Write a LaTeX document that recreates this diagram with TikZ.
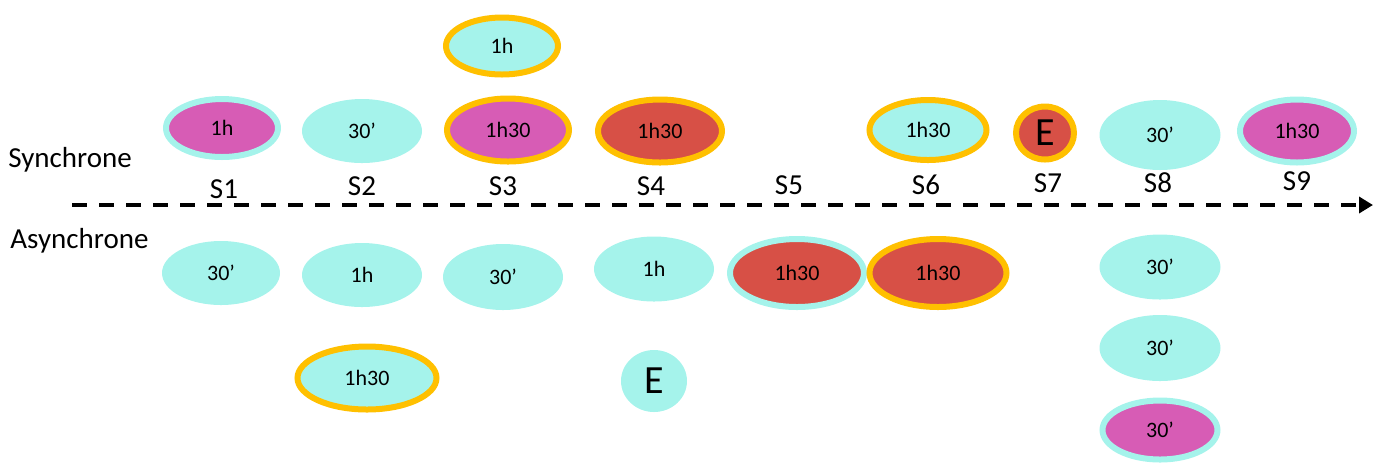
\documentclass[tikz,border=0pt]{standalone}
\usepackage{fontspec}
\setmainfont{Carlito}
\usepackage{tikz}
\usetikzlibrary{arrows.meta, shapes.geometric}
\definecolor{cTurq}{RGB}{165,243,235}
\definecolor{cPink}{RGB}{215,92,181}
\definecolor{cRed}{RGB}{215,80,70}
\definecolor{cGold}{RGB}{255,192,0}
\tikzstyle{sSlot} = [ellipse, inner sep=0pt, line width=3pt, font=\fontsize{11}{13}\selectfont]
\tikzstyle{sTurq} = [sSlot, fill=cTurq]
\tikzstyle{sTurqGold} = [sSlot, fill=cTurq, draw=cGold]
\tikzstyle{sPinkTurq} = [sSlot, fill=cPink, draw=cTurq]
\tikzstyle{sPinkGold} = [sSlot, fill=cPink, draw=cGold]
\tikzstyle{sRedGold} = [sSlot, fill=cRed, draw=cGold]
\tikzstyle{sRedTurq} = [sSlot, fill=cRed, draw=cTurq]
\tikzstyle{sExam} = [font=\fontsize{20}{24}\selectfont]
\tikzstyle{sLabel} = [inner sep=0pt, font=\fontsize{14.5}{17}\selectfont]
\tikzstyle{sAxis} = [line width=2pt, dash pattern=on 7.5pt off 6pt, -{Triangle[length=7pt,width=8pt]}]

\begin{document}
\begin{tikzpicture}[x=0.5pt, y=-0.5pt]
    \useasboundingbox (0,0) rectangle (1373,463);

    % synchrone
    \node (syn1) [sPinkTurq, minimum width=56pt, minimum height=29pt] at (222,128) {1h};
    \node (syn2) [sTurq, minimum width=60pt, minimum height=32pt] at (362,131) {30’};
    \node (syn3a) [sTurqGold, minimum width=56pt, minimum height=28.5pt] at (502,46) {1h};
    \node (syn3b) [sPinkGold, minimum width=61pt, minimum height=31.5pt] at (508,130) {1h30};
    \node (syn4) [sRedGold, minimum width=62pt, minimum height=31.5pt] at (660,131) {1h30};
    \node (syn6) [sTurqGold, minimum width=58.5pt, minimum height=30pt] at (928,130) {1h30};
    \node (syn7) [sRedGold, sExam, minimum width=29pt, minimum height=26.5pt] at (1045,133) {E};
    \node (syn8) [sTurq, minimum width=60.5pt, minimum height=35pt] at (1160,135) {30’};
    \node (syn9) [sPinkTurq, minimum width=57pt, minimum height=31.5pt] at (1297,131) {1h30};

    % asynchrone
    \node (asy1) [sTurq, minimum width=59pt, minimum height=32pt] at (221,273) {30’};
    \node (asy2a) [sTurq, minimum width=60pt, minimum height=32pt] at (362,275) {1h};
    \node (asy2b) [sTurqGold, minimum width=69.5pt, minimum height=31.5pt] at (367,378) {1h30};
    \node (asy3) [sTurq, minimum width=60pt, minimum height=33pt] at (503,277) {30’};
    \node (asy4a) [sTurq, minimum width=60pt, minimum height=32.5pt] at (654,269) {1h};
    \node (asy4b) [sTurq, sExam, minimum width=33pt, minimum height=31pt] at (654,381) {E};
    \node (asy5) [sRedTurq, minimum width=67pt, minimum height=34pt] at (797,273) {1h30};
    \node (asy6) [sRedGold, minimum width=68.5pt, minimum height=34pt] at (938,273) {1h30};
    \node (asy8a) [sTurq, minimum width=60.5pt, minimum height=32.5pt] at (1160,267) {30’};
    \node (asy8b) [sTurq, minimum width=60.5pt, minimum height=33pt] at (1160,348) {30’};
    \node (asy8c) [sPinkTurq, minimum width=57.5pt, minimum height=29.5pt] at (1160,430) {30’};

    % axe
    \node (synLbl) [sLabel, anchor=west] at (8,160) {Synchrone};
    \node (asyLbl) [sLabel, anchor=west] at (10,241) {Asynchrone};
    \foreach \x/\y [count=\i] in {224/189, 362/186, 503/186, 651/186, 789/185, 926/185, 1048/183, 1158/183, 1297/181}
        \node (s\i) [sLabel] at (\x,\y) {S\i};
    \coordinate (axStart) at (72,205);
    \coordinate (axEnd) at (1373,205);
    \draw [sAxis] (axStart) -- (axEnd);
\end{tikzpicture}
\end{document}
